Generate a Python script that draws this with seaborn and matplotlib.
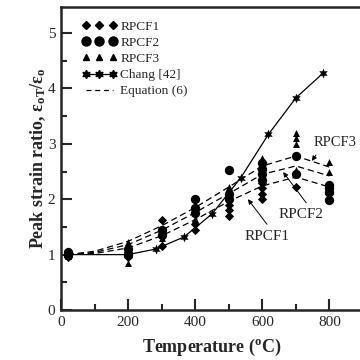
import numpy as np
import pandas as pd
import matplotlib
matplotlib.use("Agg")
import matplotlib.pyplot as plt
from matplotlib.lines import Line2D
import seaborn as sns

rpcf1_t = [20, 20, 200, 200, 300, 300, 400, 400, 500, 500, 500, 600, 600, 600, 600, 700, 800]
rpcf1_r = [1.0, 0.95, 1.05, 0.95, 1.62, 1.15, 1.55, 1.45, 1.9, 1.8, 1.7, 2.3, 2.2, 2.1, 2.0, 2.22, 2.1]

rpcf2_t = [20, 20, 200, 200, 300, 300, 400, 400, 400, 500, 500, 500, 600, 600, 600, 600, 700, 700, 800, 800, 800, 800]
rpcf2_r = [1.05, 1.0, 1.1, 1.0, 1.45, 1.35, 2.0, 1.85, 1.75, 2.53, 2.1, 2.0, 2.65, 2.55, 2.45, 2.35,
           2.78, 2.45, 2.26, 2.2, 2.13, 1.99]

rpcf3_t = [20, 200, 200, 300, 300, 400, 400, 500, 500, 600, 600, 600, 700, 700, 700, 700, 800, 800]
rpcf3_r = [0.97, 1.22, 0.85, 1.3, 1.2, 1.65, 1.6, 2.22, 2.05, 2.75, 2.6, 2.5, 3.2, 3.1, 3.0, 2.52, 2.68, 2.5]

chang_t = [20, 200, 282, 367, 451, 536, 618, 700, 780]
chang_r = [1.0, 1.0, 1.1, 1.32, 1.74, 2.39, 3.17, 3.83, 4.27]

# Equation (6) curves
eq_t = [20, 100, 200, 300, 400, 500, 600, 700, 800]
eq1_r = [1.0, 1.02, 1.12, 1.34, 1.63, 1.96, 2.24, 2.4, 2.22]
eq2_r = [1.0, 1.04, 1.18, 1.44, 1.76, 2.1, 2.45, 2.6, 2.42]
eq3_r = [1.0, 1.06, 1.24, 1.52, 1.85, 2.22, 2.6, 2.78, 2.58]

sns.set_style("ticks")
plt.rcParams["font.family"] = ["Liberation Serif", "DejaVu Serif"]
plt.rcParams["mathtext.fontset"] = "stix"

fig = plt.figure(figsize=(3.6, 3.6), dpi=100)
ax = fig.add_axes([61 / 360, 50 / 360, 302 / 360, 303 / 360])

# dashed model curves
eq = pd.DataFrame({"T": eq_t * 3, "r": eq1_r + eq2_r + eq3_r,
                   "curve": ["1"] * 9 + ["2"] * 9 + ["3"] * 9})
for name, grp in eq.groupby("curve"):
    sns.lineplot(data=grp, x="T", y="r", color="black", lw=0.9, ax=ax,
                 linestyle=(0, (5, 3)), legend=False)

# Chang [42]
sns.lineplot(x=chang_t, y=chang_r, color="black", lw=0.9, marker=(6, 1, 0),
             markersize=7, markeredgewidth=0, ax=ax, legend=False)

sns.scatterplot(x=rpcf1_t, y=rpcf1_r, marker="D", s=22, color="black", linewidth=0, ax=ax)
sns.scatterplot(x=rpcf2_t, y=rpcf2_r, marker="o", s=45, color="black", linewidth=0, ax=ax)
sns.scatterplot(x=rpcf3_t, y=rpcf3_r, marker="^", s=25, color="black", linewidth=0, ax=ax)

ax.set_xlim(0, 900)
ax.set_ylim(0, 5.47)
ax.set_xticks(np.arange(0, 801, 200))
ax.set_xticks(np.arange(100, 801, 200), minor=True)
ax.set_yticks(np.arange(0, 6, 1))
ax.set_yticks(np.arange(0.5, 5.1, 1), minor=True)
ax.tick_params(which="both", direction="in", width=1.5, labelsize=11, pad=4)
ax.tick_params(which="major", length=8)
ax.tick_params(which="minor", length=4.5)
for s in ax.spines.values():
    s.set_linewidth(1.8)

ax.set_xlabel("Temperature ($\\mathregular{^o}$C)", fontsize=13, fontweight="bold", labelpad=6)
ax.set_ylabel("Peak strain ratio, $\\mathregular{ε_{oT}/ε_o}$", fontsize=13,
              fontweight="bold", labelpad=0)

handles = [
    Line2D([], [], ls="none", marker="D", ms=4, color="black"),
    Line2D([], [], ls="none", marker="o", ms=6.5, color="black"),
    Line2D([], [], ls="none", marker="^", ms=4.5, color="black"),
    Line2D([], [], ls="-", lw=0.9, marker=(6, 1, 0), ms=6, color="black"),
    Line2D([], [], ls=(0, (4, 3)), lw=0.9, color="black"),
]
labels = ["RPCF1", "RPCF2", "RPCF3", "Chang [42]", "Equation (6)"]
ax.legend(handles, labels, loc="upper left", bbox_to_anchor=(0.07, 0.955), frameon=False,
          numpoints=3, handlelength=2.6, handletextpad=0.25, labelspacing=0.28,
          fontsize=9.6, borderpad=0, borderaxespad=0)

arrow = dict(arrowstyle="-|>", color="black", lw=0.7, mutation_scale=7)
ax.annotate("RPCF3", xy=(743, 2.65), xytext=(752, 2.9), fontsize=10.5,
            ha="left", va="bottom", arrowprops=dict(arrow, relpos=(0.15, 0.0)))
ax.annotate("RPCF2", xy=(657, 2.53), xytext=(649, 1.72), fontsize=11,
            ha="left", va="center", arrowprops=dict(arrow, relpos=(0.7, 1.0)))
ax.annotate("RPCF1", xy=(552, 2.04), xytext=(546, 1.33), fontsize=11,
            ha="left", va="center", arrowprops=dict(arrow, relpos=(0.6, 1.0)))

fig.savefig("out.png", dpi=100)
